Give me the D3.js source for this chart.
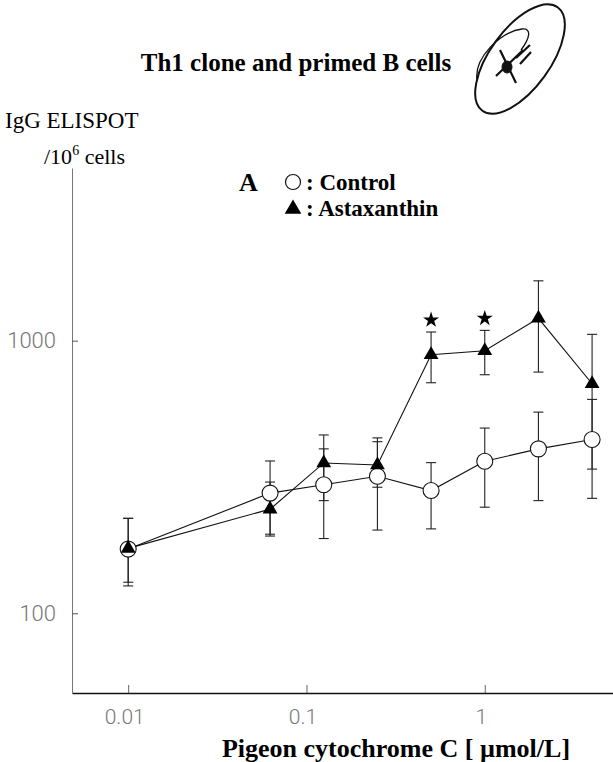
<!DOCTYPE html>
<html>
<head>
<meta charset="utf-8">
<script src="https://cdn.jsdelivr.net/npm/d3@7"></script>
<style>
  body { margin: 0; background: #fff; }
  svg { display: block; }
  .serif { font-family: "Liberation Serif", "Times New Roman", serif; }
  .tick text { font-family: Roboto, "Liberation Sans", sans-serif; font-weight: 300; fill: #777; }
</style>
</head>
<body>
<svg id="chart" width="613" height="762"></svg>
<script>
// doses of pigeon cytochrome C (umol/L)
const doses = [0.01, 0.0625, 0.125, 0.25, 0.5, 1, 2, 4];

// IgG ELISPOT / 10^6 cells
const controlMean = [172, 276, 296, 318, 282, 361, 401, 434];
const controlLow  = [126, 195, 188, 202, 204, 245, 259, 264];
const controlHigh = [223, 362, 401, 440, 357, 478, 547, 609];

const astaMean = [173, 241, 356, 350, 888, 919, 1208, 695];
const astaLow  = [130, 192, 259, 290, 701, 750, 767, 338];
const astaHigh = [223, 303, 451, 426, 1076, 1091, 1658, 1055];

// doses marked with a star (significant)
const starred = [0.5, 1];

const xTicks = [0.01, 0.1, 1];
const yTicks = [100, 1000];

const width = 613;
const height = 762;

const svg = d3.select("#chart");

const xScale = d3.scaleLog()
    .domain([0.00484, 5.24])
    .range([72, 613]);

const yScale = d3.scaleLog()
    .domain([51, 4300])
    .range([693, 168]);

// x-axis, ticks pointing up
const xAxis = svg.append("g")
    .attr("transform", `translate(0, ${yScale.range()[0]})`)
    .call(d3.axisBottom(xScale)
        .tickValues(xTicks)
        .tickFormat(d3.format("~g"))
        .tickSizeOuter(0)
        .tickSizeInner(-8)
        .tickPadding(16));
xAxis.select(".domain").attr("stroke", "#111").attr("stroke-width", 1.6);
xAxis.selectAll(".tick line").attr("stroke", "#666");
xAxis.selectAll(".tick text").attr("font-size", 21).attr("dx", -4);

// y-axis, ticks pointing right
const yAxis = svg.append("g")
    .attr("transform", `translate(${xScale.range()[0]}, 0)`)
    .call(d3.axisLeft(yScale)
        .tickValues(yTicks)
        .tickFormat(d3.format("d"))
        .tickSizeOuter(0)
        .tickSizeInner(-6)
        .tickPadding(16));
yAxis.select(".domain").attr("stroke", "#777").attr("stroke-width", 1);
yAxis.selectAll(".tick line").attr("stroke", "#555");
yAxis.selectAll(".tick text").attr("font-size", 22);

// build series
const series = [
    { name: "control", mean: controlMean, low: controlLow, high: controlHigh },
    { name: "asta", mean: astaMean, low: astaLow, high: astaHigh }
];

const line = d3.line()
    .x(d => xScale(d.x))
    .y(d => yScale(d.y));

// error bars first
series.forEach(function (s) {
    const rows = doses.map((x, i) => ({ x: x, y: s.mean[i], lo: s.low[i], hi: s.high[i] }));
    const g = svg.append("g").attr("stroke", "#222").attr("stroke-width", 1.1);
    g.selectAll("line.bar").data(rows).join("line")
        .attr("x1", d => xScale(d.x)).attr("x2", d => xScale(d.x))
        .attr("y1", d => yScale(d.lo)).attr("y2", d => yScale(d.hi));
    g.selectAll("line.cap-hi").data(rows).join("line")
        .attr("x1", d => xScale(d.x) - 5).attr("x2", d => xScale(d.x) + 5)
        .attr("y1", d => yScale(d.hi)).attr("y2", d => yScale(d.hi));
    g.selectAll("line.cap-lo").data(rows).join("line")
        .attr("x1", d => xScale(d.x) - 5).attr("x2", d => xScale(d.x) + 5)
        .attr("y1", d => yScale(d.lo)).attr("y2", d => yScale(d.lo));
    s.rows = rows;
});

// connecting lines
series.forEach(function (s) {
    svg.append("path")
        .datum(s.rows)
        .attr("d", line)
        .attr("fill", "none")
        .attr("stroke", "#111")
        .attr("stroke-width", 1.1);
});

// control markers: open circles
svg.append("g")
    .selectAll("circle")
    .data(series[0].rows)
    .join("circle")
    .attr("cx", d => xScale(d.x))
    .attr("cy", d => yScale(d.y))
    .attr("r", 8)
    .attr("fill", "#fff")
    .attr("stroke", "#111")
    .attr("stroke-width", 1.1);

// astaxanthin markers: filled triangles
const tri = d3.symbol().type(d3.symbolTriangle).size(95);
svg.append("g")
    .selectAll("path")
    .data(series[1].rows)
    .join("path")
    .attr("transform", d => `translate(${xScale(d.x)}, ${yScale(d.y)})`)
    .attr("d", tri)
    .attr("fill", "#000");

// stars above significant points
const star = d3.symbol().type(d3.symbolStar).size(80);
svg.append("g")
    .selectAll("path")
    .data(starred)
    .join("path")
    .attr("transform", function (d) {
        const i = doses.indexOf(d);
        return `translate(${xScale(d)}, ${yScale(astaHigh[i]) - 12})`;
    })
    .attr("d", star)
    .attr("fill", "#000");

// titles and labels
svg.append("text")
    .attr("class", "serif")
    .attr("x", 296).attr("y", 71)
    .attr("text-anchor", "middle")
    .attr("font-size", 25).attr("font-weight", "bold")
    .text("Th1 clone and primed B cells");

svg.append("text")
    .attr("class", "serif")
    .attr("x", 5).attr("y", 128)
    .attr("font-size", 23)
    .text("IgG ELISPOT");

const unit = svg.append("text")
    .attr("class", "serif")
    .attr("x", 44).attr("y", 164)
    .attr("font-size", 22);
unit.append("tspan").text("/10");
unit.append("tspan").attr("font-size", 14).attr("dy", -9).text("6");
unit.append("tspan").attr("dy", 9).text(" cells");

svg.append("text")
    .attr("class", "serif")
    .attr("x", 396).attr("y", 757)
    .attr("text-anchor", "middle")
    .attr("font-size", 26).attr("font-weight", "bold")
    .text("Pigeon cytochrome C [ \u00b5mol/L]");

// legend
svg.append("text")
    .attr("class", "serif")
    .attr("x", 239).attr("y", 191)
    .attr("font-size", 26).attr("font-weight", "bold")
    .text("A");

const legend = [
    { label: ": Control", kind: "circle" },
    { label: ": Astaxanthin", kind: "triangle" }
];
const lg = svg.append("g").attr("transform", "translate(293, 0)");
legend.forEach(function (d, i) {
    const y = 184 + i * 26;
    if (d.kind === "circle") {
        lg.append("circle").attr("cx", 0).attr("cy", y - 2).attr("r", 7.5)
            .attr("fill", "none").attr("stroke", "#111").attr("stroke-width", 1.2);
    } else {
        lg.append("path").attr("transform", `translate(0, ${y - 1})`)
            .attr("d", d3.symbol().type(d3.symbolTriangle).size(120)).attr("fill", "#000");
    }
    lg.append("text")
        .attr("class", "serif")
        .attr("x", 13).attr("y", y + 6)
        .attr("font-size", 23).attr("font-weight", "bold")
        .text(d.label);
});

// handwritten ellipse mark in the corner
const mark = svg.append("g")
    .attr("fill", "none").attr("stroke", "#111");
mark.append("ellipse")
    .attr("transform", "translate(520, 59) rotate(-54)")
    .attr("rx", 64).attr("ry", 30)
    .attr("stroke-width", 2);
mark.append("path")
    .attr("d", "M477,80 C474,58 500,32 522,29 C532,28 530,38 521,50")
    .attr("stroke-width", 1.3);
mark.append("path")
    .attr("d", "M500,50 L516,83 M496,76 L523,50 M516,58 L530,45 M520,64 L531,52")
    .attr("stroke-width", 2.2);
mark.append("ellipse")
    .attr("cx", 507).attr("cy", 67).attr("rx", 5).attr("ry", 6)
    .attr("fill", "#111").attr("stroke-width", 1);
</script>
</body>
</html>
